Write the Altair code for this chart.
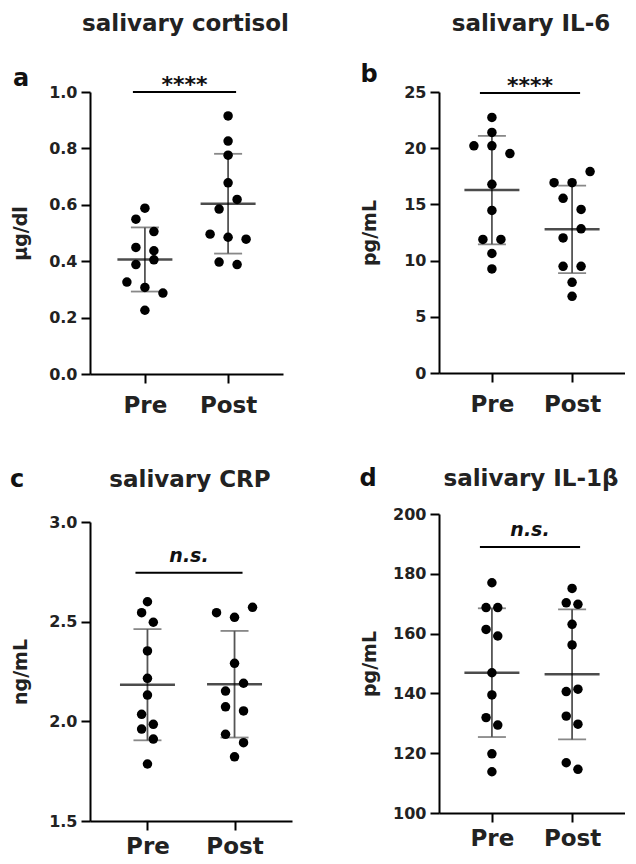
import altair as alt
import pandas as pd

FONT = "DejaVu Sans"
groups = ["Pre", "Post"]

# ---- data ----
cortisol_pre = [0.588, 0.549, 0.505, 0.449, 0.437, 0.405, 0.388, 0.326, 0.307, 0.287, 0.226]
cortisol_pre_col = [0, -1, 1, -1, 1, 1, -1, -2, 0, 2, 0]
cortisol_post = [0.915, 0.826, 0.776, 0.678, 0.619, 0.585, 0.496, 0.485, 0.478, 0.397, 0.388]
cortisol_post_col = [0, 0, 0, 0, 1, -1, -2, 0, 2, -1, 1]

il6_pre = [22.74, 21.40, 20.21, 20.21, 19.52, 16.79, 14.46, 11.88, 11.88, 10.63, 9.26]
il6_pre_col = [0, 0, -2, 0, 2, 0, 0, -1, 1, 0, 0]
il6_post = [17.92, 16.93, 16.93, 15.54, 14.55, 12.83, 12.02, 9.49, 9.49, 8.07, 6.82]
il6_post_col = [2, -2, 0, -1, 1, 1, -1, -1, 1, 0, 0]

crp_pre = [2.600, 2.545, 2.497, 2.353, 2.216, 2.132, 2.035, 1.961, 1.985, 1.911, 1.786]
crp_pre_col = [0, -0.65, 0.65, 0, 0, 0, -0.65, -0.65, 0.65, 0.65, 0]
crp_post = [2.572, 2.545, 2.522, 2.291, 2.191, 2.152, 2.073, 2.052, 1.935, 1.893, 1.822]
crp_post_col = [2, -2, 0, 0, 1, -1, -1, 1, -1, 1, 0]

il1b_pre = [177.0, 168.7, 168.7, 161.4, 159.2, 146.9, 139.5, 131.9, 129.4, 119.8, 113.8]
il1b_pre_col = [0, -0.65, 0.65, -0.65, 0.65, 0, 0, -0.65, 0.65, 0, 0]
il1b_post = [175.1, 170.3, 169.8, 163.1, 156.2, 140.6, 141.4, 132.4, 129.7, 116.8, 114.6]
il1b_post_col = [0, -0.65, 0.65, 0, 0, -0.65, 0.65, -0.65, 0.65, -0.65, 0.65]


def panel(title, letter, pre, pre_col, post, post_col, ytitle, domain, ticks, fmt,
          sig_y, sig_text, italic, width, height, title_y, letter_xy, xlabel_pad):
    df = pd.DataFrame({
        "group": ["Pre"] * len(pre) + ["Post"] * len(post),
        "value": pre + post,
        "col": pre_col + post_col,
    })
    xscale = alt.Scale(type="point", domain=groups, padding=0.66)
    xaxis = alt.Axis(title=None, labelAngle=0, labelPadding=xlabel_pad)
    xenc = alt.X("group:N", sort=groups, scale=xscale, axis=xaxis)
    yaxis = alt.Axis(title=ytitle, values=ticks, format=fmt)
    yscale = alt.Scale(domain=domain, nice=False, zero=False)

    base = alt.Chart(df)
    points = base.mark_circle(size=90, color="black", opacity=1).encode(
        x=xenc,
        y=alt.Y("value:Q", scale=yscale, axis=yaxis),
        xOffset=alt.XOffset("col:Q", scale=alt.Scale(domain=[-2, 2], range=[-18, 18])),
    )
    stats = base.transform_aggregate(
        mean="mean(value)", sd="stdev(value)", groupby=["group"]
    ).transform_calculate(lo="datum.mean - datum.sd", hi="datum.mean + datum.sd")
    sd_line = stats.mark_rule(color="#555555", strokeWidth=1.8).encode(
        x=xenc, y=alt.Y("lo:Q", scale=yscale, axis=yaxis), y2="hi:Q")
    cap_lo = stats.mark_tick(color="#555555", size=28, thickness=1.8).encode(
        x=xenc, y=alt.Y("lo:Q", scale=yscale, axis=yaxis))
    cap_hi = stats.mark_tick(color="#555555", size=28, thickness=1.8).encode(
        x=xenc, y=alt.Y("hi:Q", scale=yscale, axis=yaxis))
    mean_tick = stats.mark_tick(color="black", size=55, thickness=2.5).encode(
        x=xenc, y=alt.Y("mean:Q", scale=yscale, axis=yaxis))

    sig = alt.Chart(pd.DataFrame({"g1": ["Pre"], "g2": ["Post"], "y": [sig_y], "label": [sig_text]}))
    sig_bar = sig.mark_rule(color="black", strokeWidth=2, xOffset=-12, x2Offset=8).encode(
        x=alt.X("g1:N", scale=xscale, axis=xaxis),
        x2="g2:N",
        y=alt.Y("y:Q", scale=yscale, axis=yaxis))
    sig_lbl = sig.mark_text(
        font=FONT, fontWeight="bold", fontSize=19 if italic else 22,
        fontStyle="italic" if italic else "normal", color="#111",
        baseline="alphabetic", align="center", dy=-11 if italic else 0,
    ).encode(x=alt.value(width / 2 - 2), y=alt.Y("y:Q", scale=yscale, axis=yaxis), text="label:N")

    labels = pd.DataFrame({"t": [letter, title], "kind": ["letter", "title"]})
    letter_mark = alt.Chart(labels).transform_filter("datum.kind == 'letter'").mark_text(
        font=FONT, fontWeight="bold", fontSize=24, color="#111", align="center", baseline="middle"
    ).encode(x=alt.value(letter_xy[0]), y=alt.value(letter_xy[1]), text="t:N")
    title_mark = alt.Chart(labels).transform_filter("datum.kind == 'title'").mark_text(
        font=FONT, fontWeight="bold", fontSize=23, color="#222", align="center", baseline="middle"
    ).encode(x=alt.value(width / 2 - 1), y=alt.value(title_y), text="t:N")

    return alt.layer(sd_line, cap_lo, cap_hi, mean_tick, points, sig_bar, sig_lbl,
                     letter_mark, title_mark).properties(width=width, height=height)


pa = panel("salivary cortisol", "a", cortisol_pre, cortisol_pre_col, cortisol_post, cortisol_post_col,
           "µg/dl", [0, 1.0], [0, 0.2, 0.4, 0.6, 0.8, 1.0], ".1f",
           1.0, "****", False, 193, 282, -68.5, (-69, -13), 11)
pb = panel("salivary IL-6", "b", il6_pre, il6_pre_col, il6_post, il6_post_col,
           "pg/mL", [0, 25], [0, 5, 10, 15, 20, 25], "d",
           24.9, "****", False, 186, 281, -68.5, (-70, -17), 11)
pc = panel("salivary CRP", "c", crp_pre, crp_pre_col, crp_post, crp_post_col,
           "ng/mL", [1.5, 3.0], [1.5, 2.0, 2.5, 3.0], ".1f",
           2.745, "n.s.", True, 202, 299, -42, (-73, -42), 5)
pd_ = panel("salivary IL-1β", "d", il1b_pre, il1b_pre_col, il1b_post, il1b_post_col,
            "pg/mL", [100, 200], [100, 120, 140, 160, 180, 200], "d",
            189.0, "n.s.", True, 186, 299, -35, (-71, -35), 5)

col1 = alt.vconcat(pa, pc, spacing=51)
col2 = alt.vconcat(pb, pd_, spacing=51)

chart = alt.hconcat(col1, col2, spacing=67).properties(
    padding={"left": 1, "top": 4, "right": 0, "bottom": 0}
).configure_view(stroke=None).configure_axis(
    grid=False, domainColor="black", domainWidth=2, tickColor="black", tickWidth=2,
    tickSize=9, labelFont=FONT, labelFontWeight="bold", labelColor="#222",
    titleFont=FONT, titleFontWeight="bold", titleColor="#222",
).configure_axisX(
    labelFontSize=23,
).configure_axisY(
    labelFontSize=16, labelPadding=4, titleFontSize=19, titlePadding=10,
    minExtent=50, maxExtent=50,
)

chart.save("out.html", embed_options={"renderer": "svg", "actions": False})
